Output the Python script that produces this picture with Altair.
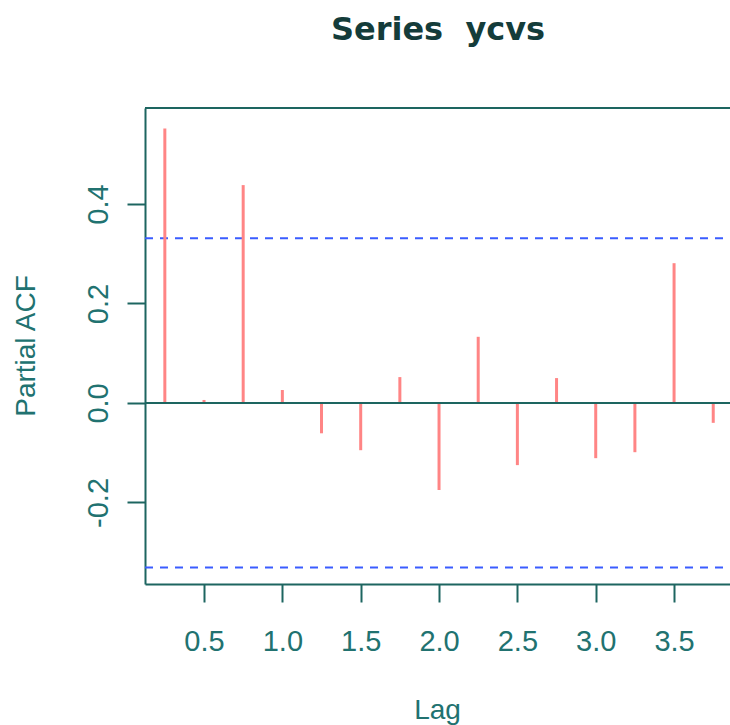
import altair as alt
import pandas as pd

lags = [0.25, 0.5, 0.75, 1.0, 1.25, 1.5, 1.75, 2.0, 2.25, 2.5, 2.75, 3.0, 3.25, 3.5, 3.75]
pacf = [0.552, 0.006, 0.438, 0.026, -0.061, -0.095, 0.052, -0.175, 0.133, -0.125,
        0.050, -0.111, -0.099, 0.281, -0.040]
ci_bounds = [0.331, -0.331]
x_ticks = [0.5, 1.0, 1.5, 2.0, 2.5, 3.0, 3.5]
y_ticks = [-0.2, 0.0, 0.2, 0.4]
title_text = "Series  ycvs"
x_title = "Lag"
y_title = "Partial ACF"

W, H = 585, 476
FONT = "Liberation Sans"
LINE = "#1d6560"
LABEL = "#217270"
TITLE = "#143c3a"

df = pd.DataFrame({"lag": lags, "pacf": pacf, "zero": [0.0] * len(lags)})
ci_df = pd.DataFrame({"ci": ci_bounds})

xscale = alt.Scale(domain=[0.1234, 3.857], nice=False, zero=False)
yscale = alt.Scale(domain=[-0.364, 0.593], nice=False, zero=False)

xaxis = alt.Axis(values=x_ticks, format=".1f", title=None, grid=False,
                 domain=True, domainColor=LINE, domainWidth=2,
                 tickSize=18, tickWidth=2, tickColor=LINE,
                 labelFont=FONT, labelFontSize=29, labelColor=LABEL,
                 labelPadding=25, labelBaseline="top", labelFlush=False)
yaxis = alt.Axis(values=y_ticks, title=None, grid=False,
                 labelExpr="replace(format(datum.value, '.1f'), '\u2212', '-')",
                 domain=True, domainColor=LINE, domainWidth=2,
                 tickSize=18, tickWidth=2, tickColor=LINE,
                 labelFont=FONT, labelFontSize=29, labelColor=LABEL,
                 labelAngle=270, labelAlign="center", labelBaseline="alphabetic",
                 labelPadding=20, labelFlush=False)

spikes = alt.Chart(df).mark_rule(color="#ff8585", strokeWidth=3).encode(
    x=alt.X("lag:Q", scale=xscale, axis=xaxis),
    y=alt.Y("pacf:Q", scale=yscale, axis=yaxis),
    y2="zero:Q",
)

zero_line = alt.Chart(df).mark_rule(color=LINE, strokeWidth=2).encode(
    y=alt.Y("mean(zero):Q", scale=yscale),
    x=alt.value(0), x2=alt.value(W),
)

ci_lines = alt.Chart(ci_df).mark_rule(color="#3a5cff", strokeWidth=2, strokeDash=[8, 7]).encode(
    y=alt.Y("ci:Q", scale=yscale),
    x=alt.value(0), x2=alt.value(W),
)

top_border = alt.Chart(ci_df).mark_rule(color=LINE, strokeWidth=2).encode(
    y=alt.value(0), x=alt.value(0), x2=alt.value(W),
)

title_mark = alt.Chart(pd.DataFrame({"t": [title_text.replace(" ", "\u00a0")]})).mark_text(
    font="DejaVu Sans", fontSize=32, fontWeight="bold", color=TITLE,
    align="center", baseline="alphabetic",
).encode(text="t:N", x=alt.value(W / 2 + 0.5), y=alt.value(40 - 108))

xtitle_mark = alt.Chart(pd.DataFrame({"t": [x_title]})).mark_text(
    font=FONT, fontSize=28, color=LABEL, align="center", baseline="alphabetic",
).encode(text="t:N", x=alt.value(W / 2), y=alt.value(719 - 108))

ytitle_mark = alt.Chart(pd.DataFrame({"t": [y_title]})).mark_text(
    font=FONT, fontSize=28, color=LABEL, align="center", baseline="alphabetic", angle=270,
).encode(text="t:N", x=alt.value(35 - 145), y=alt.value(346 - 108))

chart = alt.layer(ci_lines, spikes, zero_line, top_border, title_mark, xtitle_mark, ytitle_mark).properties(
    width=W, height=H,
    autosize=alt.AutoSizeParams(type="none"),
    padding={"left": 145, "top": 108, "right": 0, "bottom": 141},
    background="white",
).configure_view(stroke=None)

chart.save("out.html", embed_options={"renderer": "svg", "actions": False})
